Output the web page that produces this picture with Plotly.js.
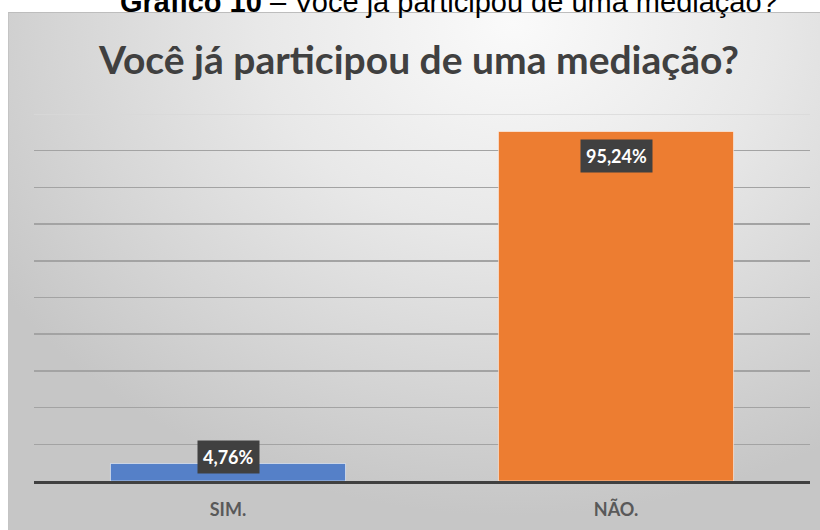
<!DOCTYPE html>
<html>
<head>
<meta charset="utf-8">
<script src="https://cdn.plot.ly/plotly-3.0.1.min.js"></script>
<style>
  html, body { margin: 0; padding: 0; background: #ffffff; }
  #wrap { position: relative; width: 820px; height: 530px; overflow: hidden; }
  #bg { position: absolute; left: 8px; top: 12px; width: 812px; height: 518px;
        border-top: 1px solid #bdbdbd; border-left: 1px solid #c4c4c4;
        background: radial-gradient(ellipse 75% 95% at 62% 2%, #fafafa 0%, #e8e8e8 42%, #d3d3d3 78%, #c6c6c6 100%); }
  #chart { position: absolute; left: 0; top: 0; width: 820px; height: 530px; }
</style>
</head>
<body>
<div id="wrap">
  <div id="bg"></div>
  <div id="chart"></div>
</div>
<script>
const categories = ["SIM.", "NÃO."];
const values = [4.76, 95.24];
const valueLabels = ["4,76%", "95,24%"];
const barColors = ["#5580C8", "#ED7D31"];
const labelShifts = [7, -25];
const gridValues = [10, 20, 30, 40, 50, 60, 70, 80, 90];
const topGrid = 100;

const chartTitle = "Você já participou de uma mediação?";
const caption = "<b>Gráfico 10</b> – Você já participou de uma mediação?";

const trace = {
  type: "bar",
  x: categories,
  y: values,
  marker: { color: barColors, line: { color: "rgba(255,255,255,0.55)", width: 1 } },
  hoverinfo: "none"
};

const annotations = categories.map((c, i) => ({
  x: c, y: values[i], xref: "x", yref: "y",
  text: "<b>" + valueLabels[i] + "</b>",
  showarrow: false,
  yanchor: "middle",
  yshift: labelShifts[i],
  bgcolor: "#404040",
  borderpad: 5,
  font: { family: "Lato, 'Open Sans', sans-serif", size: 18, color: "#ffffff" }
}));

annotations.push({
  xref: "paper", yref: "paper", x: 0.535, y: 1, yanchor: "middle", yshift: 112,
  text: caption, showarrow: false,
  font: { family: "'Liberation Sans', Arial, sans-serif", size: 29, color: "#000000" }
});

const layout = {
  width: 820, height: 530,
  margin: { l: 34, r: 10, t: 114, b: 49 },
  paper_bgcolor: "rgba(0,0,0,0)",
  plot_bgcolor: "rgba(0,0,0,0)",
  showlegend: false,
  bargap: 0.394,
  title: {
    text: "<b>" + chartTitle + "</b>",
    x: 0.511, xanchor: "center", xref: "container",
    y: 0.887, yanchor: "middle", yref: "container",
    font: { family: "Lato, 'Open Sans', sans-serif", size: 39, color: "#404040" }
  },
  xaxis: {
    type: "category",
    showline: true, linecolor: "#404040", linewidth: 3,
    showgrid: false, ticks: "",
    ticklabelstandoff: 10,
    tickfont: { family: "Lato, 'Open Sans', sans-serif", size: 18, color: "#595959", weight: "bold" }
  },
  yaxis: {
    range: [0, 100], tickvals: gridValues,
    showgrid: true, gridcolor: "#a3a3a3", gridwidth: 1.5,
    zeroline: false, showticklabels: false, ticks: "", showline: false
  },
  shapes: [{
    type: "line", xref: "paper", yref: "y", x0: 0, x1: 1, y0: topGrid, y1: topGrid,
    line: { color: "#d8d8d8", width: 1.5 }, layer: "below"
  }],
  annotations: annotations
};

Plotly.newPlot("chart", [trace], layout, { displayModeBar: false, staticPlot: true });
</script>
</body>
</html>
